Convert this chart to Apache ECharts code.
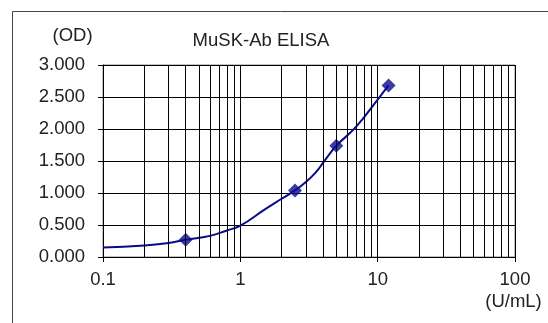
<!DOCTYPE html>
<html>
<head>
<meta charset="utf-8">
<script src="https://cdn.jsdelivr.net/npm/echarts@6/dist/echarts.min.js"></script>
<style>html,body{margin:0;padding:0;background:#fff;}#c{width:548px;height:323px;}</style>
</head>
<body>
<div id="c"></div>
<script>
// Standard points (U/mL, OD)
const stdX = [0.4, 2.5, 5, 12];
const stdY = [0.27, 1.04, 1.74, 2.68];
// Fitted curve
const curveX = [0.1, 0.2, 0.3, 0.4, 0.6, 0.8, 1, 1.5, 2, 2.5, 3, 3.6, 4, 4.5, 5, 7, 10, 12];
const curveY = [0.15, 0.18, 0.22, 0.27, 0.33, 0.415, 0.49, 0.74, 0.91, 1.04, 1.17, 1.34, 1.47, 1.62, 1.74, 2.04, 2.46, 2.68];
// Minor log grid positions
const minorX = [0.2,0.3,0.4,0.5,0.6,0.7,0.8,0.9,2,3,4,5,6,7,8,9,20,30,40,50,60,70,80,90];
const yTicks = [0, 0.5, 1, 1.5, 2, 2.5, 3];
const xTickLabels = ['0.1', '1', '10', '100'];
const title = 'MuSK-Ab ELISA';
const yUnit = '(OD)';
const xUnit = '(U/mL)';

const FONT = 'Liberation Sans, Arial, sans-serif';
const FS = 18.5;
const chart = echarts.init(document.getElementById('c'), null, {renderer: 'canvas'});
chart.setOption({
  animation: false,
  backgroundColor: '#fff',
  graphic: [
    {type: 'rect', shape: {x: 12.5, y: 11.5, width: 700, height: 500}, style: {fill: null, stroke: '#444', lineWidth: 1}, silent: true},
    {type: 'text', x: 261, y: 41, style: {text: title, font: FS + 'px ' + FONT, fill: '#222', textAlign: 'center', textVerticalAlign: 'middle'}},
    {type: 'text', x: 72.5, y: 36, style: {text: yUnit, font: FS + 'px ' + FONT, fill: '#222', textAlign: 'center', textVerticalAlign: 'middle'}},
    {type: 'text', x: 513.5, y: 301.5, style: {text: xUnit, font: FS + 'px ' + FONT, fill: '#222', textAlign: 'center', textVerticalAlign: 'middle'}}
  ],
  grid: {left: 103, top: 65, right: 33, bottom: 66, show: true, borderColor: '#888', borderWidth: 1},
  xAxis: {
    type: 'log', logBase: 10, min: 0.1, max: 100,
    axisLine: {show: true, lineStyle: {color: '#000', width: 1}},
    axisTick: {show: true, length: 5, lineStyle: {color: '#000'}},
    splitLine: {show: true, lineStyle: {color: '#000', width: 1}},
    axisLabel: {
      fontFamily: FONT, fontSize: FS, color: '#222', margin: 13,
      formatter: function (v) {
        const s = String(+v.toPrecision(6));
        return xTickLabels.indexOf(s) >= 0 ? s : '';
      }
    }
  },
  yAxis: {
    type: 'value', min: 0, max: 3, interval: 0.5,
    axisLine: {show: true, lineStyle: {color: '#000', width: 1}},
    axisTick: {show: true, length: 5, lineStyle: {color: '#000'}},
    splitLine: {show: true, lineStyle: {color: '#000', width: 1}},
    axisLabel: {
      fontFamily: FONT, fontSize: FS, color: '#222', margin: 18,
      formatter: function (v) { return yTicks.indexOf(v) >= 0 ? v.toFixed(3) : ''; }
    }
  },
  series: [
    {
      type: 'line', silent: true, symbol: 'none', data: [],
      markLine: {
        silent: true, symbol: 'none', label: {show: false},
        lineStyle: {color: '#000', width: 1, type: 'solid'},
        data: minorX.map(v => ({xAxis: v}))
      }
    },
    {
      type: 'line', smooth: 0.5, symbol: 'none',
      lineStyle: {color: '#0a0a8c', width: 2},
      data: curveX.map((x, i) => [x, curveY[i]]),
      z: 3
    },
    {
      type: 'scatter', symbol: 'diamond', symbolSize: 14,
      itemStyle: {color: '#0a0a8c'},
      data: stdX.map((x, i) => [x, stdY[i]]),
      z: 4
    }
  ]
});
</script>
</body>
</html>
